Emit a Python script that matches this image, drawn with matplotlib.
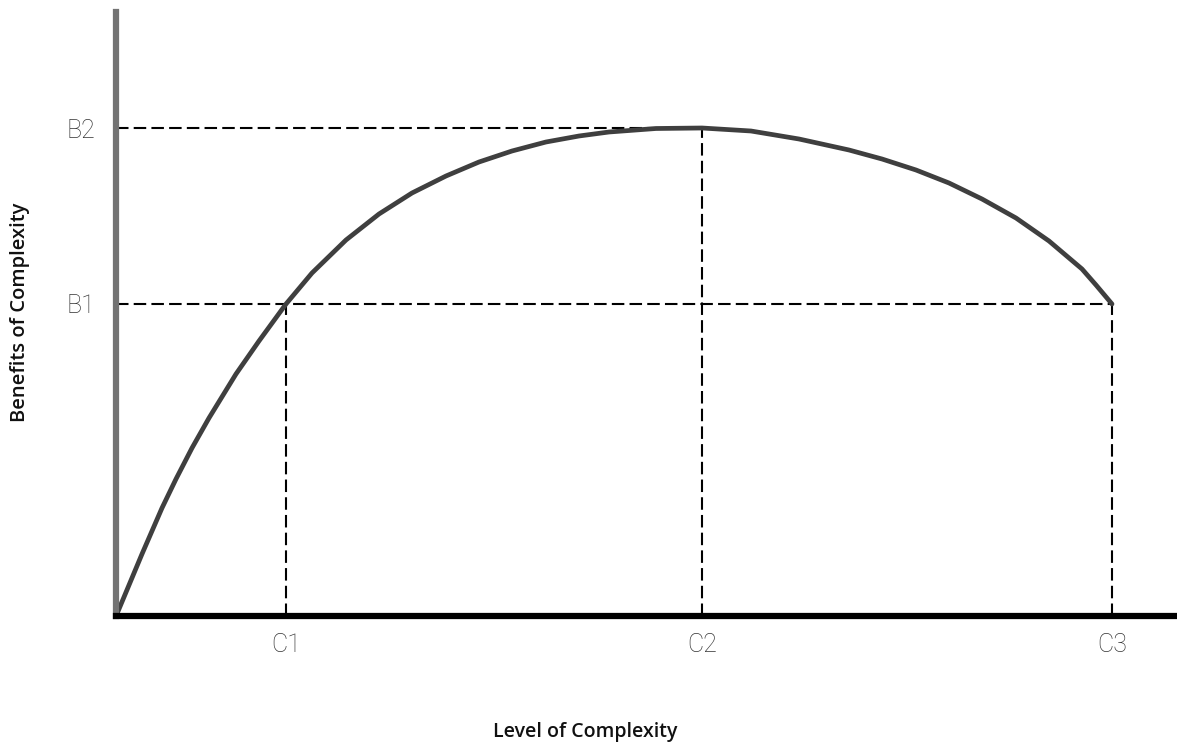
import matplotlib
matplotlib.use("Agg")
import matplotlib.pyplot as plt
import numpy as np

# ---- data (arbitrary units) ----
curve_x = [0.00, 0.03, 0.26, 0.46, 0.60, 0.76, 0.93, 1.20, 1.43, 1.70, 1.96, 2.30,
           2.63, 2.96, 3.30, 3.63, 3.96, 4.30, 4.63, 4.93, 5.40, 5.86, 6.35, 6.83,
           7.33, 7.66, 8.00, 8.33, 8.66, 9.00, 9.33, 9.66, 9.80, 9.96]
curve_y = [0.00, 0.07, 0.62, 1.08, 1.37, 1.68, 1.98, 2.42, 2.75, 3.12, 3.43, 3.76,
           4.02, 4.23, 4.40, 4.54, 4.65, 4.74, 4.80, 4.84, 4.875, 4.88, 4.85, 4.77,
           4.66, 4.57, 4.46, 4.33, 4.17, 3.98, 3.75, 3.47, 3.31, 3.12]

c_levels = [1.70, 5.86, 9.96]
c_labels = ["C1", "C2", "C3"]
b_levels = [3.12, 4.88]
b_labels = ["B1", "B2"]
# which C each B guide line runs to
b_guide_end = [9.96, 5.86]
# which B each C guide line rises to
c_guide_top = [3.12, 4.88, 3.12]

x_title = "Level of Complexity"
y_title = "Benefits of Complexity"

W, H = 1177, 743
fig = plt.figure(figsize=(W / 100, H / 100), dpi=100)
fig.patch.set_facecolor("white")

ox, oy = 116, 616      # origin in pixels
top_px = 12
ax = fig.add_axes([ox / W, (H - oy) / H, (W - ox) / W, (oy - top_px) / H])
ax.set_xlim(0, (W - ox) / 100)
ax.set_ylim(0, (oy - top_px) / 100)
ax.set_facecolor("none")

for s in ["top", "right"]:
    ax.spines[s].set_visible(False)
ax.spines["left"].set_linewidth(4.5)
ax.spines["left"].set_color("#737373")
ax.spines["bottom"].set_linewidth(4.5)
ax.spines["bottom"].set_color("#000000")
ax.spines["left"].set_zorder(5)
ax.spines["bottom"].set_zorder(5)

# guide lines
dash = dict(color="black", lw=1.5, dashes=(6, 2.5), zorder=2)
for b, xe in zip(b_levels, b_guide_end):
    ax.plot([0, xe], [b, b], **dash)
for c, yt in zip(c_levels, c_guide_top):
    ax.plot([c, c], [0, yt], **dash)

# curve
ax.plot(curve_x, curve_y, color="#3f3f3f", lw=3.4, solid_capstyle="round",
        solid_joinstyle="round", zorder=4, clip_on=False)

tick_font = dict(family=["Roboto", "DejaVu Sans"], weight="light", size=18)
ax.set_xticks(c_levels)
ax.set_xticklabels(c_labels, color="#333333", **tick_font)
ax.set_yticks(b_levels)
ax.set_yticklabels(b_labels, color="#333333", **tick_font)
ax.tick_params(axis="x", length=0, pad=12)
ax.tick_params(axis="y", length=0, pad=15)

title_font = dict(family=["Open Sans", "DejaVu Sans"], fontweight="semibold",
                  color="#111111")
fig.text(585 / W, 1 - 732 / H, x_title, ha="center", va="center",
         fontsize=14, **title_font)
fig.text(20 / W, 1 - 312 / H, y_title, ha="center", va="center",
         rotation=90, fontsize=14.5, **title_font)

fig.savefig("out.png", dpi=100, facecolor="white")
